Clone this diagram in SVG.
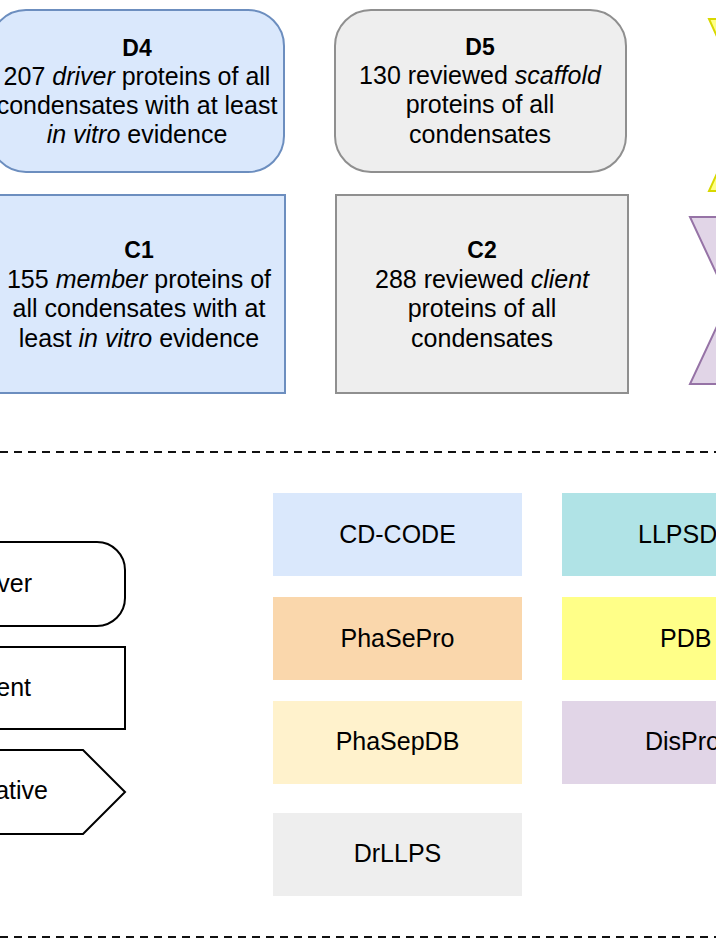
<svg xmlns="http://www.w3.org/2000/svg" width="716" height="940" viewBox="0 0 716 940">
<style>
text{font-family:"Liberation Sans",Arial,sans-serif;fill:#000}
.t{font-size:25px;text-anchor:middle}
.h{font-size:23px;font-weight:bold;text-anchor:middle}
.db{font-size:25px;text-anchor:middle}
.dbs{font-size:25px}
.lg{font-size:25px;text-anchor:end}
.blue{fill:#dae8fc;stroke:#6c8ebf;stroke-width:2}
.gray{fill:#eeeeee;stroke:#8f8f8f;stroke-width:2}
.leg{fill:#fff;stroke:#000;stroke-width:2}
.dash{stroke:#111;stroke-width:2;stroke-dasharray:8 6;fill:none}
</style>
<rect width="716" height="940" fill="#fff"/>

<g id="D4">
<rect class="blue" x="-10" y="10" width="294" height="162" rx="36" ry="36"/>
<text class="h" x="137" y="56">D4</text>
<text class="t" x="137" y="85">207 <tspan font-style="italic">driver</tspan> proteins of all</text>
<text class="t" x="137" y="114">condensates with at least</text>
<text class="t" x="137" y="143"><tspan font-style="italic">in vitro</tspan> evidence</text>
</g>

<g id="D5">
<rect class="gray" x="335" y="10" width="291" height="162" rx="36" ry="36"/>
<text class="h" x="480" y="55">D5</text>
<text class="t" x="480" y="84">130 reviewed <tspan font-style="italic">scaffold</tspan></text>
<text class="t" x="480" y="113">proteins of all</text>
<text class="t" x="480" y="143">condensates</text>
</g>

<g id="NP">
<path d="M709,19 L787,19 L748,105 L787,191 L709,191 L748,105 Z" fill="#ffff88" stroke="#d8d800" stroke-width="2"/>
</g>

<g id="C1">
<rect class="blue" x="-8" y="195" width="293" height="198"/>
<text class="h" x="139" y="258">C1</text>
<text class="t" x="139" y="288">155 <tspan font-style="italic">member</tspan> proteins of</text>
<text class="t" x="139" y="317">all condensates with at</text>
<text class="t" x="139" y="347">least <tspan font-style="italic">in vitro</tspan> evidence</text>
</g>

<g id="C2">
<rect class="gray" x="336" y="195" width="292" height="198"/>
<text class="h" x="482" y="258">C2</text>
<text class="t" x="482" y="288">288 reviewed <tspan font-style="italic">client</tspan></text>
<text class="t" x="482" y="317">proteins of all</text>
<text class="t" x="482" y="347">condensates</text>
</g>

<g id="ND">
<path d="M690,217 L768,217 L729,300.5 L768,384 L690,384 L729,300.5 Z" fill="#e1d5e7" stroke="#9673a6" stroke-width="2"/>
</g>

<g id="separators">
<line class="dash" x1="0" y1="452" x2="716" y2="452"/>
<line class="dash" x1="0" y1="937" x2="716" y2="937"/>
</g>

<g id="legend-driver">
<rect class="leg" x="-130" y="542" width="255" height="84" rx="28" ry="28"/>
<text class="lg" x="32" y="592">ver</text>
</g>
<g id="legend-client">
<rect class="leg" x="-130" y="647" width="255" height="82"/>
<text class="lg" x="31" y="696">ent</text>
</g>
<g id="legend-negative">
<path class="leg" d="M-130,750 L83,750 L125,792 L83,834 L-130,834 Z"/>
<text class="lg" x="48" y="799">ative</text>
</g>

<g id="db-cdcode">
<rect x="273" y="493" width="249" height="83" fill="#dae8fc"/>
<text class="db" x="397.5" y="543">CD-CODE</text>
</g>
<g id="db-llpsdb">
<rect x="562" y="493" width="249" height="83" fill="#b0e3e6"/>
<text class="dbs" x="638" y="543">LLPSD</text>
</g>
<g id="db-phasepro">
<rect x="273" y="597" width="249" height="83" fill="#fad7ac"/>
<text class="db" x="397.5" y="647">PhaSePro</text>
</g>
<g id="db-pdb">
<rect x="562" y="597" width="249" height="83" fill="#ffff88"/>
<text class="dbs" x="660" y="647">PDB</text>
</g>
<g id="db-phasepdb">
<rect x="273" y="701" width="249" height="83" fill="#fff2cc"/>
<text class="db" x="397.5" y="750">PhaSepDB</text>
</g>
<g id="db-disprot">
<rect x="562" y="701" width="249" height="83" fill="#e1d5e7"/>
<text class="dbs" x="645" y="750">DisPro</text>
</g>
<g id="db-drllps">
<rect x="273" y="813" width="249" height="83" fill="#eeeeee"/>
<text class="db" x="397.5" y="862">DrLLPS</text>
</g>
</svg>
